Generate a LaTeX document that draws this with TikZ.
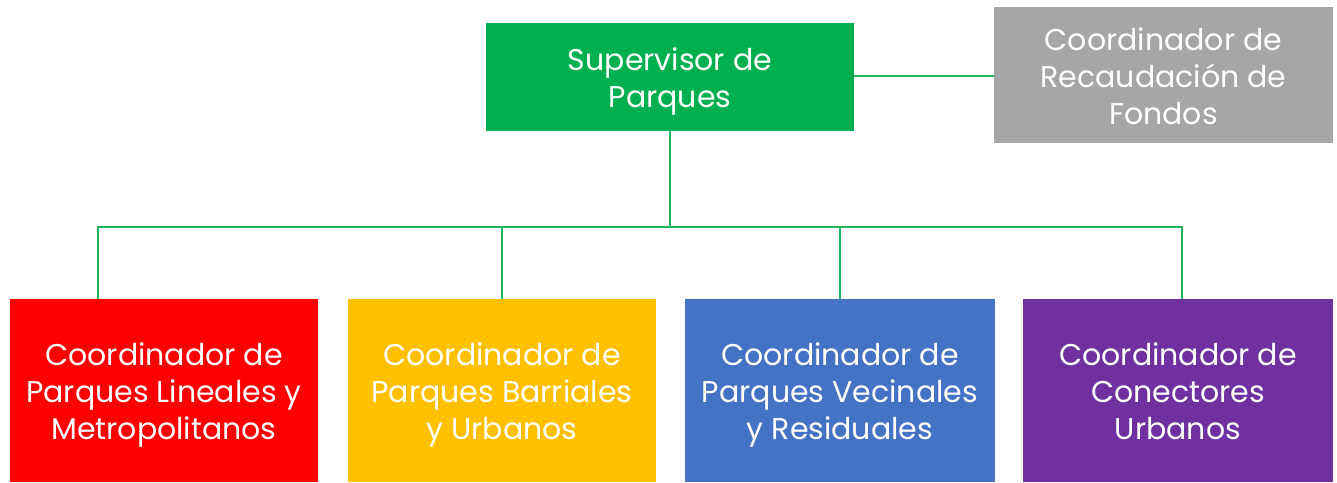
\documentclass[tikz,border=0pt]{standalone}
\usepackage{fontspec}
\setmainfont{Poppins}
\definecolor{cgreen}{HTML}{00B050}
\definecolor{cgray}{HTML}{A6A6A6}
\definecolor{cred}{HTML}{FF0000}
\definecolor{cyellow}{HTML}{FFC000}
\definecolor{cblue}{HTML}{4472C4}
\definecolor{cpurple}{HTML}{7030A0}
\definecolor{cline}{HTML}{1DB55E}
\newcommand{\topst}{\rule{0pt}{36pt}}
\tikzset{
  box/.style={rectangle, inner sep=0pt, outer sep=0pt, text=white, align=center,
    font=\fontsize{30}{37}\selectfont},
  conn/.style={draw=cline, line width=2pt},
}
\begin{document}
\begin{tikzpicture}[x=1pt,y=-1pt]
\useasboundingbox (0,0) rectangle (1337,482);
\node[box, fill=cgreen, minimum width=368pt, minimum height=108pt] (sup) at (670,77) {\topst Supervisor de\\Parques\strut};
\node[box, fill=cgray, minimum width=339pt, minimum height=136pt] (rec) at (1163.5,75) {\topst Coordinador de\\Recaudación de\\Fondos\strut};
\node[box, fill=cred, minimum width=308pt, minimum height=183pt] (lin) at (164,390.5) {\topst Coordinador de\\Parques Lineales y\\Metropolitanos\strut};
\node[box, fill=cyellow, minimum width=308pt, minimum height=183pt] (bar) at (502,390.5) {\topst Coordinador de\\Parques Barriales\\y Urbanos\strut};
\node[box, fill=cblue, minimum width=310pt, minimum height=183pt] (vec) at (840,390.5) {\topst Coordinador de\\Parques Vecinales\\y Residuales\strut};
\node[box, fill=cpurple, minimum width=310pt, minimum height=183pt] (con) at (1178,390.5) {\topst Coordinador de\\Conectores\\Urbanos\strut};
\coordinate (bus) at (670,227);
\draw[conn] (sup.east |- 0,76) -- (rec.west |- 0,76);
\draw[conn] (sup.south) -- (bus);
\draw[conn] (lin.north -| 98,0) |- (bus);
\draw[conn] (con.north -| 1182,0) |- (bus);
\draw[conn] (bar.north) -- (bar.north |- bus);
\draw[conn] (vec.north) -- (vec.north |- bus);
\end{tikzpicture}
\end{document}
